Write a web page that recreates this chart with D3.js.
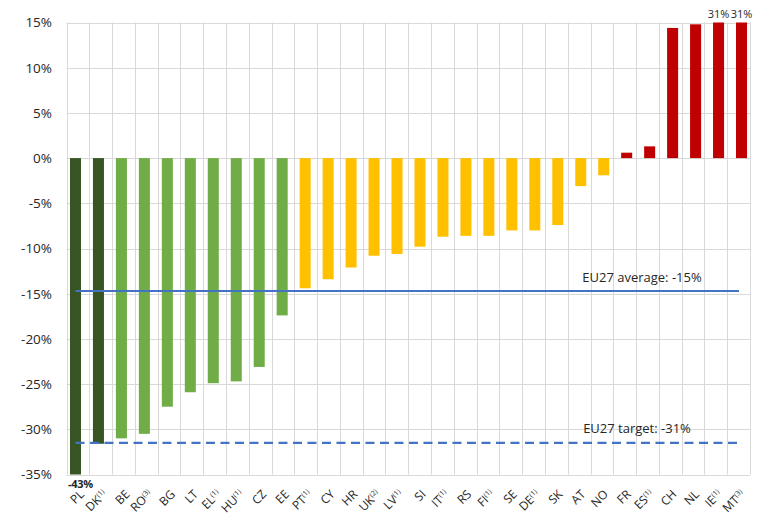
<!DOCTYPE html>
<html>
<head>
<meta charset="utf-8">
<script src="https://d3js.org/d3.v7.min.js"></script>
<style>
  body { margin: 0; background: #fff; }
  text { font-family: "Segoe UI", "Open Sans", sans-serif; fill: #262626; }
</style>
</head>
<body>
<svg width="768" height="515"></svg>
<script>
// countries, footnote marks and change vs. base year (%)
var countries = ["PL","DK","BE","RO","BG","LT","EL","HU","CZ","EE","PT","CY","HR","UK","LV","SI","IT","RS","FI","SE","DE","SK","AT","NO","FR","ES","CH","NL","IE","MT"];
var notes     = ["","1","","3","","","1","1","","","1","","","2","1","","1","","1","","1","","","","","1","","","1","3"];
var values    = [-43,-31.6,-31,-30.5,-27.5,-25.9,-24.9,-24.7,-23.1,-17.4,-14.4,-13.4,-12.1,-10.8,-10.6,-9.8,-8.7,-8.6,-8.6,-8.0,-8.0,-7.4,-3.1,-1.9,0.6,1.3,14.4,14.8,31,31];
var groups    = ["dark","dark","green","green","green","green","green","green","green","green","yellow","yellow","yellow","yellow","yellow","yellow","yellow","yellow","yellow","yellow","yellow","yellow","yellow","yellow","red","red","red","red","red","red"];
var yTicks    = [15,10,5,0,-5,-10,-15,-20,-25,-30,-35];
var eu27Average = -14.7, eu27AverageLabel = "EU27 average: -15%";
var eu27Target  = -31.5, eu27TargetLabel  = "EU27 target: -31%";

var colors = {dark: "#375623", green: "#70AD47", yellow: "#FFC000", red: "#C00000"};

var svg = d3.select("svg"),
    plotLeft = 66.5, plotRight = 750, plotTop = 22.5, plotBottom = 474.5;

// bars sit on a slightly wider band than the gridlines (as in the original)
var xScale = d3.scaleBand().domain(countries).range([64, 753]).paddingInner(0.52).paddingOuter(0.26),
    yScale = d3.scaleLinear().domain([-35, 15]).range([plotBottom, plotTop]);

var band = d3.scaleBand().domain(countries).range([plotLeft, plotRight]);

var data = countries.map(function(c, i) {
    return {country: c, note: notes[i], value: values[i], group: groups[i]};
});

// horizontal gridlines
svg.append("g")
   .selectAll("line")
   .data(yTicks)
   .enter().append("line")
   .attr("x1", plotLeft)
   .attr("x2", plotRight)
   .attr("y1", function(d) { return Math.round(yScale(d)) + 0.5; })
   .attr("y2", function(d) { return Math.round(yScale(d)) + 0.5; })
   .attr("stroke", "#d9d9d9");

// vertical gridlines between categories
svg.append("g")
   .selectAll("line")
   .data(countries.concat(["end"]))
   .enter().append("line")
   .attr("x1", function(d, i) { return Math.round(plotLeft + i * band.bandwidth()) + 0.5; })
   .attr("x2", function(d, i) { return Math.round(plotLeft + i * band.bandwidth()) + 0.5; })
   .attr("y1", plotTop)
   .attr("y2", plotBottom)
   .attr("stroke", "#d9d9d9");

// y axis labels
svg.append("g")
   .call(d3.axisLeft(yScale).tickValues(yTicks).tickSize(0).tickPadding(0)
      .tickFormat(function(d) { return d + "%"; }))
   .attr("transform", "translate(" + 52 + ",0)")
   .call(g => g.select(".domain").remove())
   .selectAll("text")
   .attr("font-size", "13.5px")
   .attr("font-family", null)
   .attr("fill", "#262626");

// bars (clipped to the axis range)
function clip(v) { return Math.max(-35, Math.min(15, v)); }

svg.selectAll(".bar")
   .data(data)
   .enter().append("rect")
   .attr("class", "bar")
   .attr("x", function(d) { return xScale(d.country); })
   .attr("y", function(d) { return yScale(Math.max(0, clip(d.value))); })
   .attr("width", xScale.bandwidth())
   .attr("height", function(d) { return Math.abs(yScale(clip(d.value)) - yScale(0)); })
   .attr("fill", function(d) { return colors[d.group]; });

// labels for clipped bars
svg.selectAll(".clipLabel")
   .data(data.filter(function(d) { return d.value !== clip(d.value); }))
   .enter().append("text")
   .attr("class", "clipLabel")
   .attr("x", function(d) { return d.value < 0 ? xScale(d.country) - 2 : xScale(d.country) + xScale.bandwidth() / 2; })
   .attr("y", function(d) { return d.value < 0 ? yScale(-35) + 13 : yScale(15) - 5; })
   .attr("text-anchor", function(d) { return d.value < 0 ? "start" : "middle"; })
   .attr("font-size", "11px")
   .attr("font-weight", function(d) { return d.value < 0 ? "bold" : "normal"; })
   .attr("letter-spacing", function(d) { return d.value < 0 ? "-0.3px" : null; })
   .text(function(d) { return d.value + "%"; });

// reference lines
var first = xScale(countries[0]) + xScale.bandwidth() / 2,
    last = plotRight - 11;

svg.append("line")
   .attr("x1", first).attr("x2", last)
   .attr("y1", yScale(eu27Average)).attr("y2", yScale(eu27Average))
   .attr("stroke", "#4472C4")
   .attr("stroke-width", 2.2);

svg.append("line")
   .attr("x1", first).attr("x2", last)
   .attr("y1", yScale(eu27Target)).attr("y2", yScale(eu27Target))
   .attr("stroke", "#4472C4")
   .attr("stroke-width", 2.2)
   .attr("stroke-dasharray", "9,5.5");

svg.append("text")
   .attr("x", 642)
   .attr("y", yScale(eu27Average) - 9)
   .attr("text-anchor", "middle")
   .attr("font-size", "13px")
   .text(eu27AverageLabel);

svg.append("text")
   .attr("x", 637)
   .attr("y", yScale(eu27Target) - 10)
   .attr("text-anchor", "middle")
   .attr("font-size", "13px")
   .text(eu27TargetLabel);

// x labels, rotated, with footnote marks
var xl = svg.selectAll(".xlabel")
   .data(data)
   .enter().append("text")
   .attr("class", "xlabel")
   .attr("text-anchor", "end")
   .attr("font-size", "12px")
   .attr("transform", function(d) {
       return "translate(" + (band(d.country) + band.bandwidth() / 2 + 4) + "," + 492 + ") rotate(-45)";
   })
   .attr("dy", "0.35em");

xl.append("tspan").text(function(d) { return d.country; });
xl.filter(function(d) { return d.note; })
  .append("tspan")
  .attr("font-size", "7px")
  .attr("dy", "-0.6em")
  .text(function(d) { return "(" + d.note + ")"; });
</script>
</body>
</html>
